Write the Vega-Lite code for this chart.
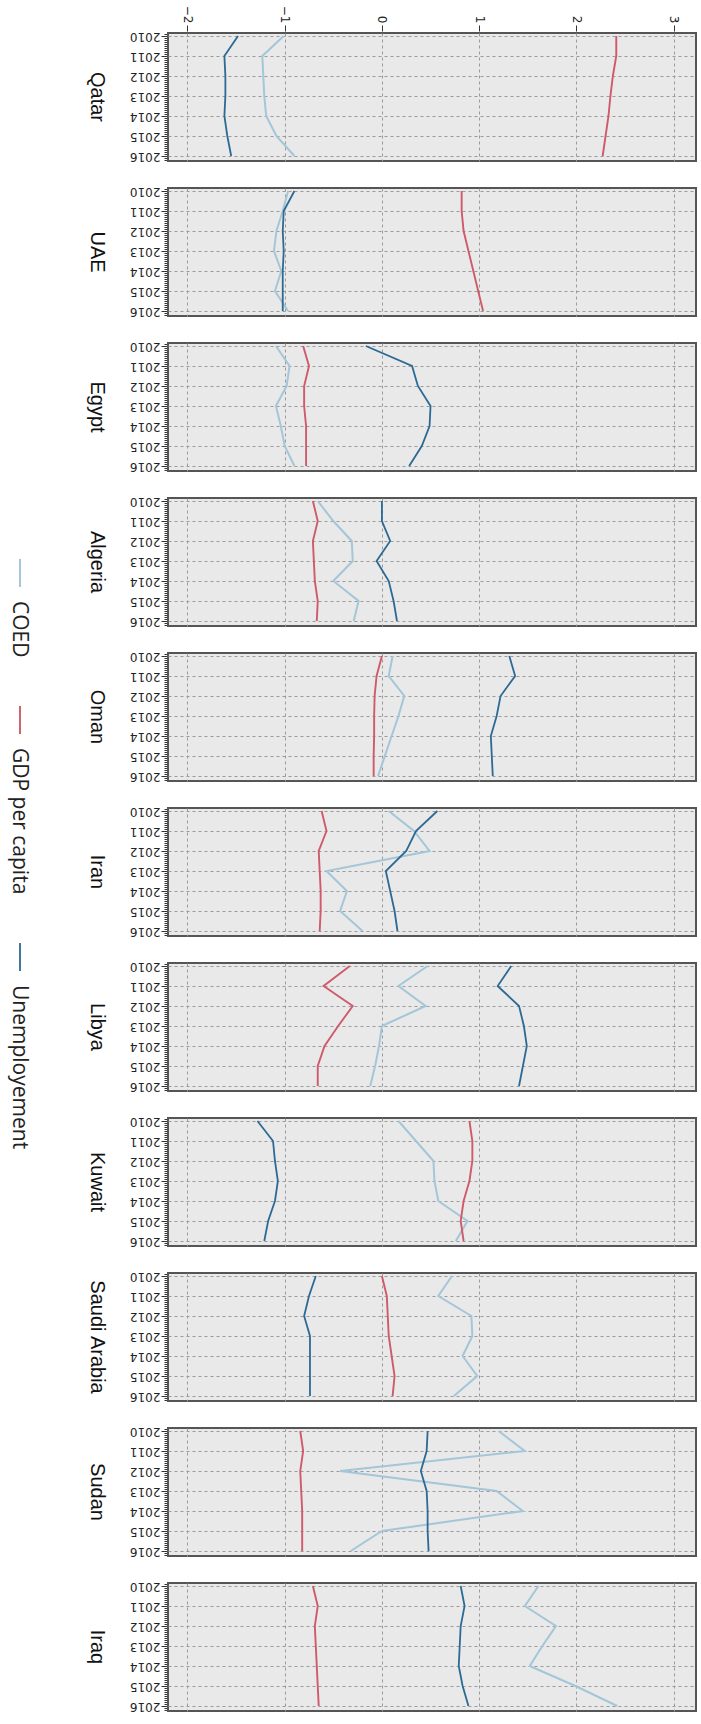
{
  "$schema": "https://vega.github.io/schema/vega-lite/v6.json",
  "padding": {"left": 5, "top": 5, "right": 5, "bottom": 3},
  "data": {"values": [
    {"c":"Qatar","s":"COED","y":2010,"v":-1.01},{"c":"Qatar","s":"COED","y":2011,"v":-1.23},{"c":"Qatar","s":"COED","y":2012,"v":-1.22},{"c":"Qatar","s":"COED","y":2013,"v":-1.21},{"c":"Qatar","s":"COED","y":2014,"v":-1.19},{"c":"Qatar","s":"COED","y":2015,"v":-1.085},{"c":"Qatar","s":"COED","y":2016,"v":-0.9},
    {"c":"Qatar","s":"GDP per capita","y":2010,"v":2.41},{"c":"Qatar","s":"GDP per capita","y":2011,"v":2.41},{"c":"Qatar","s":"GDP per capita","y":2012,"v":2.375},{"c":"Qatar","s":"GDP per capita","y":2013,"v":2.35},{"c":"Qatar","s":"GDP per capita","y":2014,"v":2.33},{"c":"Qatar","s":"GDP per capita","y":2015,"v":2.3},{"c":"Qatar","s":"GDP per capita","y":2016,"v":2.27},
    {"c":"Qatar","s":"Unemployement","y":2010,"v":-1.48},{"c":"Qatar","s":"Unemployement","y":2011,"v":-1.62},{"c":"Qatar","s":"Unemployement","y":2012,"v":-1.61},{"c":"Qatar","s":"Unemployement","y":2013,"v":-1.61},{"c":"Qatar","s":"Unemployement","y":2014,"v":-1.62},{"c":"Qatar","s":"Unemployement","y":2015,"v":-1.59},{"c":"Qatar","s":"Unemployement","y":2016,"v":-1.55},

    {"c":"UAE","s":"COED","y":2010,"v":-0.965},{"c":"UAE","s":"COED","y":2011,"v":-1.02},{"c":"UAE","s":"COED","y":2012,"v":-1.085},{"c":"UAE","s":"COED","y":2013,"v":-1.11},{"c":"UAE","s":"COED","y":2014,"v":-1.035},{"c":"UAE","s":"COED","y":2015,"v":-1.1},{"c":"UAE","s":"COED","y":2016,"v":-0.965},
    {"c":"UAE","s":"GDP per capita","y":2010,"v":0.82},{"c":"UAE","s":"GDP per capita","y":2011,"v":0.82},{"c":"UAE","s":"GDP per capita","y":2012,"v":0.84},{"c":"UAE","s":"GDP per capita","y":2013,"v":0.89},{"c":"UAE","s":"GDP per capita","y":2014,"v":0.94},{"c":"UAE","s":"GDP per capita","y":2015,"v":0.99},{"c":"UAE","s":"GDP per capita","y":2016,"v":1.04},
    {"c":"UAE","s":"Unemployement","y":2010,"v":-0.9},{"c":"UAE","s":"Unemployement","y":2011,"v":-1.01},{"c":"UAE","s":"Unemployement","y":2012,"v":-1.02},{"c":"UAE","s":"Unemployement","y":2013,"v":-1.01},{"c":"UAE","s":"Unemployement","y":2014,"v":-1.02},{"c":"UAE","s":"Unemployement","y":2015,"v":-1.02},{"c":"UAE","s":"Unemployement","y":2016,"v":-1.02},

    {"c":"Egypt","s":"COED","y":2010,"v":-1.09},{"c":"Egypt","s":"COED","y":2011,"v":-0.95},{"c":"Egypt","s":"COED","y":2012,"v":-0.98},{"c":"Egypt","s":"COED","y":2013,"v":-1.09},{"c":"Egypt","s":"COED","y":2014,"v":-1.04},{"c":"Egypt","s":"COED","y":2015,"v":-1.0},{"c":"Egypt","s":"COED","y":2016,"v":-0.9},
    {"c":"Egypt","s":"GDP per capita","y":2010,"v":-0.81},{"c":"Egypt","s":"GDP per capita","y":2011,"v":-0.75},{"c":"Egypt","s":"GDP per capita","y":2012,"v":-0.8},{"c":"Egypt","s":"GDP per capita","y":2013,"v":-0.8},{"c":"Egypt","s":"GDP per capita","y":2014,"v":-0.78},{"c":"Egypt","s":"GDP per capita","y":2015,"v":-0.78},{"c":"Egypt","s":"GDP per capita","y":2016,"v":-0.78},
    {"c":"Egypt","s":"Unemployement","y":2010,"v":-0.165},{"c":"Egypt","s":"Unemployement","y":2011,"v":0.31},{"c":"Egypt","s":"Unemployement","y":2012,"v":0.37},{"c":"Egypt","s":"Unemployement","y":2013,"v":0.5},{"c":"Egypt","s":"Unemployement","y":2014,"v":0.49},{"c":"Egypt","s":"Unemployement","y":2015,"v":0.41},{"c":"Egypt","s":"Unemployement","y":2016,"v":0.28},

    {"c":"Algeria","s":"COED","y":2010,"v":-0.66},{"c":"Algeria","s":"COED","y":2011,"v":-0.5},{"c":"Algeria","s":"COED","y":2012,"v":-0.31},{"c":"Algeria","s":"COED","y":2013,"v":-0.3},{"c":"Algeria","s":"COED","y":2014,"v":-0.5},{"c":"Algeria","s":"COED","y":2015,"v":-0.24},{"c":"Algeria","s":"COED","y":2016,"v":-0.29},
    {"c":"Algeria","s":"GDP per capita","y":2010,"v":-0.71},{"c":"Algeria","s":"GDP per capita","y":2011,"v":-0.66},{"c":"Algeria","s":"GDP per capita","y":2012,"v":-0.71},{"c":"Algeria","s":"GDP per capita","y":2013,"v":-0.7},{"c":"Algeria","s":"GDP per capita","y":2014,"v":-0.69},{"c":"Algeria","s":"GDP per capita","y":2015,"v":-0.66},{"c":"Algeria","s":"GDP per capita","y":2016,"v":-0.67},
    {"c":"Algeria","s":"Unemployement","y":2010,"v":0.0},{"c":"Algeria","s":"Unemployement","y":2011,"v":0.0},{"c":"Algeria","s":"Unemployement","y":2012,"v":0.085},{"c":"Algeria","s":"Unemployement","y":2013,"v":-0.055},{"c":"Algeria","s":"Unemployement","y":2014,"v":0.07},{"c":"Algeria","s":"Unemployement","y":2015,"v":0.12},{"c":"Algeria","s":"Unemployement","y":2016,"v":0.155},

    {"c":"Oman","s":"COED","y":2010,"v":0.11},{"c":"Oman","s":"COED","y":2011,"v":0.07},{"c":"Oman","s":"COED","y":2012,"v":0.23},{"c":"Oman","s":"COED","y":2013,"v":0.17},{"c":"Oman","s":"COED","y":2014,"v":0.1},{"c":"Oman","s":"COED","y":2015,"v":0.03},{"c":"Oman","s":"COED","y":2016,"v":-0.04},
    {"c":"Oman","s":"GDP per capita","y":2010,"v":0.0},{"c":"Oman","s":"GDP per capita","y":2011,"v":-0.055},{"c":"Oman","s":"GDP per capita","y":2012,"v":-0.075},{"c":"Oman","s":"GDP per capita","y":2013,"v":-0.08},{"c":"Oman","s":"GDP per capita","y":2014,"v":-0.08},{"c":"Oman","s":"GDP per capita","y":2015,"v":-0.085},{"c":"Oman","s":"GDP per capita","y":2016,"v":-0.085},
    {"c":"Oman","s":"Unemployement","y":2010,"v":1.31},{"c":"Oman","s":"Unemployement","y":2011,"v":1.37},{"c":"Oman","s":"Unemployement","y":2012,"v":1.22},{"c":"Oman","s":"Unemployement","y":2013,"v":1.18},{"c":"Oman","s":"Unemployement","y":2014,"v":1.12},{"c":"Oman","s":"Unemployement","y":2015,"v":1.13},{"c":"Oman","s":"Unemployement","y":2016,"v":1.14},

    {"c":"Iran","s":"COED","y":2010,"v":0.07},{"c":"Iran","s":"COED","y":2011,"v":0.33},{"c":"Iran","s":"COED","y":2012,"v":0.49},{"c":"Iran","s":"COED","y":2013,"v":-0.57},{"c":"Iran","s":"COED","y":2014,"v":-0.36},{"c":"Iran","s":"COED","y":2015,"v":-0.43},{"c":"Iran","s":"COED","y":2016,"v":-0.2},
    {"c":"Iran","s":"GDP per capita","y":2010,"v":-0.62},{"c":"Iran","s":"GDP per capita","y":2011,"v":-0.57},{"c":"Iran","s":"GDP per capita","y":2012,"v":-0.65},{"c":"Iran","s":"GDP per capita","y":2013,"v":-0.64},{"c":"Iran","s":"GDP per capita","y":2014,"v":-0.63},{"c":"Iran","s":"GDP per capita","y":2015,"v":-0.63},{"c":"Iran","s":"GDP per capita","y":2016,"v":-0.64},
    {"c":"Iran","s":"Unemployement","y":2010,"v":0.57},{"c":"Iran","s":"Unemployement","y":2011,"v":0.35},{"c":"Iran","s":"Unemployement","y":2012,"v":0.25},{"c":"Iran","s":"Unemployement","y":2013,"v":0.04},{"c":"Iran","s":"Unemployement","y":2014,"v":0.085},{"c":"Iran","s":"Unemployement","y":2015,"v":0.13},{"c":"Iran","s":"Unemployement","y":2016,"v":0.16},

    {"c":"Libya","s":"COED","y":2010,"v":0.47},{"c":"Libya","s":"COED","y":2011,"v":0.17},{"c":"Libya","s":"COED","y":2012,"v":0.45},{"c":"Libya","s":"COED","y":2013,"v":0.0},{"c":"Libya","s":"COED","y":2014,"v":-0.03},{"c":"Libya","s":"COED","y":2015,"v":-0.07},{"c":"Libya","s":"COED","y":2016,"v":-0.12},
    {"c":"Libya","s":"GDP per capita","y":2010,"v":-0.33},{"c":"Libya","s":"GDP per capita","y":2011,"v":-0.6},{"c":"Libya","s":"GDP per capita","y":2012,"v":-0.3},{"c":"Libya","s":"GDP per capita","y":2013,"v":-0.45},{"c":"Libya","s":"GDP per capita","y":2014,"v":-0.59},{"c":"Libya","s":"GDP per capita","y":2015,"v":-0.66},{"c":"Libya","s":"GDP per capita","y":2016,"v":-0.66},
    {"c":"Libya","s":"Unemployement","y":2010,"v":1.33},{"c":"Libya","s":"Unemployement","y":2011,"v":1.19},{"c":"Libya","s":"Unemployement","y":2012,"v":1.41},{"c":"Libya","s":"Unemployement","y":2013,"v":1.46},{"c":"Libya","s":"Unemployement","y":2014,"v":1.49},{"c":"Libya","s":"Unemployement","y":2015,"v":1.45},{"c":"Libya","s":"Unemployement","y":2016,"v":1.41},

    {"c":"Kuwait","s":"COED","y":2010,"v":0.17},{"c":"Kuwait","s":"COED","y":2011,"v":0.35},{"c":"Kuwait","s":"COED","y":2012,"v":0.53},{"c":"Kuwait","s":"COED","y":2013,"v":0.54},{"c":"Kuwait","s":"COED","y":2014,"v":0.58},{"c":"Kuwait","s":"COED","y":2015,"v":0.88},{"c":"Kuwait","s":"COED","y":2016,"v":0.76},
    {"c":"Kuwait","s":"GDP per capita","y":2010,"v":0.9},{"c":"Kuwait","s":"GDP per capita","y":2011,"v":0.93},{"c":"Kuwait","s":"GDP per capita","y":2012,"v":0.93},{"c":"Kuwait","s":"GDP per capita","y":2013,"v":0.9},{"c":"Kuwait","s":"GDP per capita","y":2014,"v":0.84},{"c":"Kuwait","s":"GDP per capita","y":2015,"v":0.81},{"c":"Kuwait","s":"GDP per capita","y":2016,"v":0.84},
    {"c":"Kuwait","s":"Unemployement","y":2010,"v":-1.28},{"c":"Kuwait","s":"Unemployement","y":2011,"v":-1.12},{"c":"Kuwait","s":"Unemployement","y":2012,"v":-1.1},{"c":"Kuwait","s":"Unemployement","y":2013,"v":-1.07},{"c":"Kuwait","s":"Unemployement","y":2014,"v":-1.1},{"c":"Kuwait","s":"Unemployement","y":2015,"v":-1.17},{"c":"Kuwait","s":"Unemployement","y":2016,"v":-1.21},

    {"c":"Saudi Arabia","s":"COED","y":2010,"v":0.72},{"c":"Saudi Arabia","s":"COED","y":2011,"v":0.58},{"c":"Saudi Arabia","s":"COED","y":2012,"v":0.92},{"c":"Saudi Arabia","s":"COED","y":2013,"v":0.93},{"c":"Saudi Arabia","s":"COED","y":2014,"v":0.83},{"c":"Saudi Arabia","s":"COED","y":2015,"v":0.98},{"c":"Saudi Arabia","s":"COED","y":2016,"v":0.74},
    {"c":"Saudi Arabia","s":"GDP per capita","y":2010,"v":0.0},{"c":"Saudi Arabia","s":"GDP per capita","y":2011,"v":0.05},{"c":"Saudi Arabia","s":"GDP per capita","y":2012,"v":0.06},{"c":"Saudi Arabia","s":"GDP per capita","y":2013,"v":0.07},{"c":"Saudi Arabia","s":"GDP per capita","y":2014,"v":0.1},{"c":"Saudi Arabia","s":"GDP per capita","y":2015,"v":0.13},{"c":"Saudi Arabia","s":"GDP per capita","y":2016,"v":0.11},
    {"c":"Saudi Arabia","s":"Unemployement","y":2010,"v":-0.68},{"c":"Saudi Arabia","s":"Unemployement","y":2011,"v":-0.75},{"c":"Saudi Arabia","s":"Unemployement","y":2012,"v":-0.8},{"c":"Saudi Arabia","s":"Unemployement","y":2013,"v":-0.74},{"c":"Saudi Arabia","s":"Unemployement","y":2014,"v":-0.74},{"c":"Saudi Arabia","s":"Unemployement","y":2015,"v":-0.74},{"c":"Saudi Arabia","s":"Unemployement","y":2016,"v":-0.74},

    {"c":"Sudan","s":"COED","y":2010,"v":1.2},{"c":"Sudan","s":"COED","y":2011,"v":1.47},{"c":"Sudan","s":"COED","y":2012,"v":-0.43},{"c":"Sudan","s":"COED","y":2013,"v":1.18},{"c":"Sudan","s":"COED","y":2014,"v":1.45},{"c":"Sudan","s":"COED","y":2015,"v":0.0},{"c":"Sudan","s":"COED","y":2016,"v":-0.32},
    {"c":"Sudan","s":"GDP per capita","y":2010,"v":-0.84},{"c":"Sudan","s":"GDP per capita","y":2011,"v":-0.81},{"c":"Sudan","s":"GDP per capita","y":2012,"v":-0.84},{"c":"Sudan","s":"GDP per capita","y":2013,"v":-0.83},{"c":"Sudan","s":"GDP per capita","y":2014,"v":-0.82},{"c":"Sudan","s":"GDP per capita","y":2015,"v":-0.82},{"c":"Sudan","s":"GDP per capita","y":2016,"v":-0.82},
    {"c":"Sudan","s":"Unemployement","y":2010,"v":0.47},{"c":"Sudan","s":"Unemployement","y":2011,"v":0.46},{"c":"Sudan","s":"Unemployement","y":2012,"v":0.4},{"c":"Sudan","s":"Unemployement","y":2013,"v":0.46},{"c":"Sudan","s":"Unemployement","y":2014,"v":0.47},{"c":"Sudan","s":"Unemployement","y":2015,"v":0.47},{"c":"Sudan","s":"Unemployement","y":2016,"v":0.48},

    {"c":"Iraq","s":"COED","y":2010,"v":1.61},{"c":"Iraq","s":"COED","y":2011,"v":1.47},{"c":"Iraq","s":"COED","y":2012,"v":1.79},{"c":"Iraq","s":"COED","y":2013,"v":1.65},{"c":"Iraq","s":"COED","y":2014,"v":1.52},{"c":"Iraq","s":"COED","y":2015,"v":1.99},{"c":"Iraq","s":"COED","y":2016,"v":2.42},
    {"c":"Iraq","s":"GDP per capita","y":2010,"v":-0.71},{"c":"Iraq","s":"GDP per capita","y":2011,"v":-0.66},{"c":"Iraq","s":"GDP per capita","y":2012,"v":-0.69},{"c":"Iraq","s":"GDP per capita","y":2013,"v":-0.68},{"c":"Iraq","s":"GDP per capita","y":2014,"v":-0.67},{"c":"Iraq","s":"GDP per capita","y":2015,"v":-0.66},{"c":"Iraq","s":"GDP per capita","y":2016,"v":-0.65},
    {"c":"Iraq","s":"Unemployement","y":2010,"v":0.81},{"c":"Iraq","s":"Unemployement","y":2011,"v":0.85},{"c":"Iraq","s":"Unemployement","y":2012,"v":0.81},{"c":"Iraq","s":"Unemployement","y":2013,"v":0.8},{"c":"Iraq","s":"Unemployement","y":2014,"v":0.79},{"c":"Iraq","s":"Unemployement","y":2015,"v":0.83},{"c":"Iraq","s":"Unemployement","y":2016,"v":0.89}
  ]},
  "facet": {
    "row": {
      "field": "c", "type": "nominal", "title": null,
      "sort": ["Qatar","UAE","Egypt","Algeria","Oman","Iran","Libya","Kuwait","Saudi Arabia","Sudan","Iraq"],
      "header": {"labelAngle": 90, "labelFont": "Liberation Sans", "labelFontSize": 20, "labelColor": "#111", "labelPadding": 2}
    }
  },
  "spacing": 24,
  "spec": {
    "width": 528,
    "height": 128,
    "mark": {"type": "line"},
    "encoding": {
      "x": {
        "field": "v", "type": "quantitative",
        "scale": {"domain": [-2.2, 3.23], "nice": false, "zero": false},
        "axis": {"orient": "top", "values": [-2, -1, 0, 1, 2, 3], "labelAngle": 90, "tickSize": 6, "labelPadding": 2, "labelFlush": false, "labelOverlap": false}
      },
      "y": {
        "field": "y", "type": "quantitative",
        "scale": {"domain": [2009.85, 2016.25], "nice": false, "zero": false, "reverse": true},
        "axis": {
          "orient": "left",
          "values": [2009.9,2010,2010.1,2010.2,2010.3,2010.4,2010.5,2010.6,2010.7,2010.8,2010.9,2011,2011.1,2011.2,2011.3,2011.4,2011.5,2011.6,2011.7,2011.8,2011.9,2012,2012.1,2012.2,2012.3,2012.4,2012.5,2012.6,2012.7,2012.8,2012.9,2013,2013.1,2013.2,2013.3,2013.4,2013.5,2013.6,2013.7,2013.8,2013.9,2014,2014.1,2014.2,2014.3,2014.4,2014.5,2014.6,2014.7,2014.8,2014.9,2015,2015.1,2015.2,2015.3,2015.4,2015.5,2015.6,2015.7,2015.8,2015.9,2016,2016.1,2016.2],
          "labelExpr": "datum.value % 1 === 0 ? '' + datum.value : ''",
          "labelAngle": 180,
          "labelOverlap": false,
          "labelFlush": false,
          "labelPadding": 1,
          "tickSize": {"condition": {"test": "datum.value % 1 === 0", "value": 6}, "value": 3},
          "gridOpacity": {"condition": {"test": "datum.value % 1 === 0", "value": 1}, "value": 0}
        }
      },
      "order": {"field": "y", "type": "quantitative"},
      "strokeWidth": {
        "field": "s", "type": "nominal", "legend": null,
        "scale": {"domain": ["COED", "GDP per capita", "Unemployement"], "range": [2, 1.8, 2.4]}
      },
      "color": {
        "field": "s", "type": "nominal",
        "scale": {"domain": ["COED", "GDP per capita", "Unemployement"], "range": ["#a3c6d8", "#cf5a6b", "#2c6a94"]},
        "legend": {
          "orient": "none", "legendX": -163, "legendY": 525, "direction": "vertical", "title": null,
          "symbolType": "M0,-1L0,1", "symbolSize": 784, "symbolStrokeWidth": 4,
          "labelFont": "Open Sans", "labelFontSize": 21, "labelColor": "#222", "rowPadding": 44, "labelLimit": 300,
          "encoding": {"labels": {"angle": {"value": 90}, "align": {"value": "left"}, "baseline": {"value": "middle"}, "dx": {"value": 28}, "dy": {"value": 20}}}
        }
      }
    }
  },
  "config": {
    "view": {"stroke": "#555", "strokeWidth": 2, "fill": "#e9e9e9"},
    "axis": {"title": null, "domain": false, "gridColor": "#9a9a9a", "gridDash": [3, 3], "gridWidth": 1, "labelFont": "DejaVu Sans", "labelFontSize": 12, "labelColor": "#222", "tickColor": "#333", "tickWidth": 1}
  }
}
